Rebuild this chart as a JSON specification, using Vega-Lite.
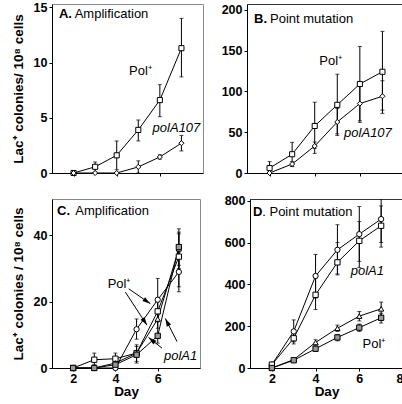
{
"$schema":"https://vega.github.io/schema/vega-lite/v6.json",
"padding":{"left":10,"top":0,"right":0,"bottom":0},
"config":{
 "font":"Liberation Sans",
 "view":{"stroke":"#333","strokeWidth":1},
 "axis":{"grid":false,"domainColor":"#000","tickColor":"#000","labelColor":"#000","titleColor":"#000","labelFontSize":12.5,"labelFontWeight":"bold","titleFontSize":13.5,"titleFontWeight":"bold","tickSize":3,"labelPadding":2,"titlePadding":8},
 "axisX":{"titlePadding":0,"labelPadding":1},
 "text":{"font":"Liberation Sans","fontSize":13,"color":"#000"}
},
"datasets":{"pts":[
 {"p":"A","s":"Pol+","day":2,"v":0},
 {"p":"A","s":"Pol+","day":3,"v":0.56,"lo":0.1,"hi":1.0},
 {"p":"A","s":"Pol+","day":4,"v":1.6,"lo":0.3,"hi":2.9},
 {"p":"A","s":"Pol+","day":5,"v":3.9,"lo":2.9,"hi":4.8},
 {"p":"A","s":"Pol+","day":6,"v":6.6,"lo":5.1,"hi":8.0},
 {"p":"A","s":"Pol+","day":7,"v":11.3,"lo":8.7,"hi":14.0},
 {"p":"A","s":"polA107","day":2,"v":0},
 {"p":"A","s":"polA107","day":3,"v":0},
 {"p":"A","s":"polA107","day":4,"v":0},
 {"p":"A","s":"polA107","day":5,"v":0.55,"lo":0,"hi":1.1},
 {"p":"A","s":"polA107","day":6,"v":1.45,"lo":1.25,"hi":1.65},
 {"p":"A","s":"polA107","day":7,"v":2.7,"lo":2.0,"hi":3.4},
 {"p":"B","s":"Pol+","day":2,"v":6,"lo":0,"hi":14},
 {"p":"B","s":"Pol+","day":3,"v":23,"lo":8,"hi":37.5},
 {"p":"B","s":"Pol+","day":4,"v":57.6,"lo":30,"hi":86.7},
 {"p":"B","s":"Pol+","day":5,"v":83.5,"lo":46,"hi":121},
 {"p":"B","s":"Pol+","day":6,"v":109,"lo":64,"hi":155},
 {"p":"B","s":"Pol+","day":7,"v":124,"lo":77,"hi":173.5},
 {"p":"B","s":"polA107","day":2,"v":0},
 {"p":"B","s":"polA107","day":3,"v":11,"lo":8,"hi":14},
 {"p":"B","s":"polA107","day":4,"v":33,"lo":24,"hi":38},
 {"p":"B","s":"polA107","day":5,"v":62.5,"lo":48,"hi":79},
 {"p":"B","s":"polA107","day":6,"v":85,"lo":62,"hi":109},
 {"p":"B","s":"polA107","day":7,"v":94,"lo":73,"hi":113},
 {"p":"C","s":"polA1 (1)","day":2,"v":0},
 {"p":"C","s":"polA1 (1)","day":3,"v":0},
 {"p":"C","s":"polA1 (1)","day":4,"v":0},
 {"p":"C","s":"polA1 (1)","day":5,"v":11.7,"lo":8.7,"hi":14.8},
 {"p":"C","s":"polA1 (1)","day":6,"v":20.6,"lo":14,"hi":27},
 {"p":"C","s":"polA1 (1)","day":7,"v":29,"lo":23,"hi":35},
 {"p":"C","s":"polA1 (2)","day":2,"v":0},
 {"p":"C","s":"polA1 (2)","day":3,"v":2.5,"lo":1,"hi":4.5},
 {"p":"C","s":"polA1 (2)","day":4,"v":2.8,"lo":1.2,"hi":4.5},
 {"p":"C","s":"polA1 (2)","day":5,"v":4.5,"lo":2,"hi":7},
 {"p":"C","s":"polA1 (2)","day":6,"v":17.1,"lo":14,"hi":20},
 {"p":"C","s":"polA1 (2)","day":7,"v":33.6,"lo":24.5,"hi":40.5},
 {"p":"C","s":"Pol+ (1)","day":2,"v":0},
 {"p":"C","s":"Pol+ (1)","day":3,"v":0},
 {"p":"C","s":"Pol+ (1)","day":4,"v":1.5},
 {"p":"C","s":"Pol+ (1)","day":5,"v":4.5},
 {"p":"C","s":"Pol+ (1)","day":6,"v":14.8,"lo":12,"hi":17.5},
 {"p":"C","s":"Pol+ (1)","day":7,"v":36,"lo":30,"hi":42},
 {"p":"C","s":"Pol+ (2)","day":2,"v":0},
 {"p":"C","s":"Pol+ (2)","day":3,"v":0},
 {"p":"C","s":"Pol+ (2)","day":4,"v":1},
 {"p":"C","s":"Pol+ (2)","day":5,"v":4,"lo":1.5,"hi":6.5},
 {"p":"C","s":"Pol+ (2)","day":6,"v":9.7,"lo":7.5,"hi":14},
 {"p":"C","s":"Pol+ (2)","day":7,"v":36.5,"lo":31,"hi":41},
 {"p":"D","s":"polA1 (1)","day":2,"v":16},
 {"p":"D","s":"polA1 (1)","day":3,"v":175,"lo":125,"hi":230},
 {"p":"D","s":"polA1 (1)","day":4,"v":440,"lo":335,"hi":543},
 {"p":"D","s":"polA1 (1)","day":5,"v":565,"lo":450,"hi":685},
 {"p":"D","s":"polA1 (1)","day":6,"v":640,"lo":510,"hi":772},
 {"p":"D","s":"polA1 (1)","day":7,"v":712,"lo":600,"hi":830},
 {"p":"D","s":"polA1 (2)","day":2,"v":16},
 {"p":"D","s":"polA1 (2)","day":3,"v":142,"lo":115,"hi":170},
 {"p":"D","s":"polA1 (2)","day":4,"v":350,"lo":280,"hi":430},
 {"p":"D","s":"polA1 (2)","day":5,"v":505,"lo":445,"hi":600},
 {"p":"D","s":"polA1 (2)","day":6,"v":608,"lo":480,"hi":700},
 {"p":"D","s":"polA1 (2)","day":7,"v":680,"lo":578,"hi":775},
 {"p":"D","s":"Pol+ (1)","day":2,"v":0},
 {"p":"D","s":"Pol+ (1)","day":3,"v":40},
 {"p":"D","s":"Pol+ (1)","day":4,"v":122,"lo":110,"hi":135},
 {"p":"D","s":"Pol+ (1)","day":5,"v":190,"lo":175,"hi":205},
 {"p":"D","s":"Pol+ (1)","day":6,"v":248,"lo":225,"hi":270},
 {"p":"D","s":"Pol+ (1)","day":7,"v":283,"lo":250,"hi":315},
 {"p":"D","s":"Pol+ (2)","day":2,"v":0},
 {"p":"D","s":"Pol+ (2)","day":3,"v":37},
 {"p":"D","s":"Pol+ (2)","day":4,"v":92,"lo":80,"hi":105},
 {"p":"D","s":"Pol+ (2)","day":5,"v":146,"lo":130,"hi":160},
 {"p":"D","s":"Pol+ (2)","day":6,"v":193,"lo":175,"hi":210},
 {"p":"D","s":"Pol+ (2)","day":7,"v":240,"lo":215,"hi":262}
]},
"vconcat":[
 {"spacing":16,"hconcat":[
  {"width":151,"height":169,"view":{"stroke":"#8a8a8a"},
   "data":{"name":"pts"},"transform":[{"filter":"datum.p === 'A'"}],
   "layer":[
    {"transform":[{"filter":"datum.lo != null"}],"mark":{"type":"rule","color":"#000","strokeWidth":1},
     "encoding":{"x":{"field":"day","type":"quantitative","scale":{"domain":[1,8],"nice":false,"zero":false},"axis":{"values":[2,3,4,5,6,7],"labels":false,"title":null}},
      "y":{"field":"lo","type":"quantitative","scale":{"domain":[0,15.3],"nice":false,"zero":false},"axis":{"values":[0,5,10,15],"title":"Lac⁺ colonies/ 10⁸ cells"}},"y2":{"field":"hi"}}},
    {"transform":[{"filter":"datum.lo != null"}],"mark":{"type":"tick","orient":"horizontal","size":4,"thickness":1,"color":"#000"},
     "encoding":{"x":{"field":"day","type":"quantitative","scale":{"domain":[1,8],"nice":false,"zero":false},"axis":{"values":[2,3,4,5,6,7],"labels":false,"title":null}},
      "y":{"field":"lo","type":"quantitative","scale":{"domain":[0,15.3],"nice":false,"zero":false},"axis":{"values":[0,5,10,15],"title":"Lac⁺ colonies/ 10⁸ cells"}}}},
    {"transform":[{"filter":"datum.lo != null"}],"mark":{"type":"tick","orient":"horizontal","size":4,"thickness":1,"color":"#000"},
     "encoding":{"x":{"field":"day","type":"quantitative","scale":{"domain":[1,8],"nice":false,"zero":false},"axis":{"values":[2,3,4,5,6,7],"labels":false,"title":null}},
      "y":{"field":"hi","type":"quantitative","scale":{"domain":[0,15.3],"nice":false,"zero":false},"axis":{"values":[0,5,10,15],"title":"Lac⁺ colonies/ 10⁸ cells"}}}},
    {"mark":{"type":"line","color":"#000","strokeWidth":1},
     "encoding":{"x":{"field":"day","type":"quantitative","scale":{"domain":[1,8],"nice":false,"zero":false},"axis":{"values":[2,3,4,5,6,7],"labels":false,"title":null}},
      "y":{"field":"v","type":"quantitative","scale":{"domain":[0,15.3],"nice":false,"zero":false},"axis":{"values":[0,5,10,15],"title":"Lac⁺ colonies/ 10⁸ cells"}},"detail":{"field":"s"}}},
    {"mark":{"type":"point","filled":true,"stroke":"#000","strokeWidth":1,"opacity":1,"size":26},
     "encoding":{"x":{"field":"day","type":"quantitative","scale":{"domain":[1,8],"nice":false,"zero":false},"axis":{"values":[2,3,4,5,6,7],"labels":false,"title":null}},
      "y":{"field":"v","type":"quantitative","scale":{"domain":[0,15.3],"nice":false,"zero":false},"axis":{"values":[0,5,10,15],"title":"Lac⁺ colonies/ 10⁸ cells"}},
      "shape":{"field":"s","type":"nominal","legend":null,"scale":{"domain":["Pol+","polA107","polA1 (1)","polA1 (2)","Pol+ (1)","Pol+ (2)"],"range":["square","diamond","circle","square","triangle-up","square"]}},
      "fill":{"field":"s","type":"nominal","legend":null,"scale":{"domain":["Pol+","polA107","polA1 (1)","polA1 (2)","Pol+ (1)","Pol+ (2)"],"range":["#fff","#fff","#fff","#fff","#fff","#9a9a9a"]}}}},
    {"data":{"values":[{}]},"mark":{"type":"text","text":"A.","fontWeight":"bold","align":"left","baseline":"middle"},
     "encoding":{"x":{"datum":1.32,"type":"quantitative"},"y":{"datum":14.4,"type":"quantitative"}}},
    {"data":{"values":[{}]},"mark":{"type":"text","text":"Amplification","align":"left","baseline":"middle"},
     "encoding":{"x":{"datum":2.05,"type":"quantitative"},"y":{"datum":14.4,"type":"quantitative"}}},
    {"data":{"values":[{}]},"mark":{"type":"text","text":"Pol⁺","align":"center","baseline":"middle"},
     "encoding":{"x":{"datum":5.1,"type":"quantitative"},"y":{"datum":9.2,"type":"quantitative"}}},
    {"data":{"values":[{}]},"mark":{"type":"text","text":"polA107","fontStyle":"italic","align":"center","baseline":"middle"},
     "encoding":{"x":{"datum":6.77,"type":"quantitative"},"y":{"datum":4.1,"type":"quantitative"}}}
   ]},
  {"width":158,"height":169,"view":{"stroke":"#333"},
   "data":{"name":"pts"},"transform":[{"filter":"datum.p === 'B'"}],
   "layer":[
    {"transform":[{"filter":"datum.lo != null"}],"mark":{"type":"rule","color":"#000","strokeWidth":1},
     "encoding":{"x":{"field":"day","type":"quantitative","scale":{"domain":[1,8],"nice":false,"zero":false},"axis":{"values":[2,3,4,5,6,7],"labels":false,"title":null}},
      "y":{"field":"lo","type":"quantitative","scale":{"domain":[0,207],"nice":false,"zero":false},"axis":{"values":[0,50,100,150,200],"title":null}},"y2":{"field":"hi"}}},
    {"transform":[{"filter":"datum.lo != null"}],"mark":{"type":"tick","orient":"horizontal","size":4,"thickness":1,"color":"#000"},
     "encoding":{"x":{"field":"day","type":"quantitative","scale":{"domain":[1,8],"nice":false,"zero":false},"axis":{"values":[2,3,4,5,6,7],"labels":false,"title":null}},
      "y":{"field":"lo","type":"quantitative","scale":{"domain":[0,207],"nice":false,"zero":false},"axis":{"values":[0,50,100,150,200],"title":null}}}},
    {"transform":[{"filter":"datum.lo != null"}],"mark":{"type":"tick","orient":"horizontal","size":4,"thickness":1,"color":"#000"},
     "encoding":{"x":{"field":"day","type":"quantitative","scale":{"domain":[1,8],"nice":false,"zero":false},"axis":{"values":[2,3,4,5,6,7],"labels":false,"title":null}},
      "y":{"field":"hi","type":"quantitative","scale":{"domain":[0,207],"nice":false,"zero":false},"axis":{"values":[0,50,100,150,200],"title":null}}}},
    {"mark":{"type":"line","color":"#000","strokeWidth":1},
     "encoding":{"x":{"field":"day","type":"quantitative","scale":{"domain":[1,8],"nice":false,"zero":false},"axis":{"values":[2,3,4,5,6,7],"labels":false,"title":null}},
      "y":{"field":"v","type":"quantitative","scale":{"domain":[0,207],"nice":false,"zero":false},"axis":{"values":[0,50,100,150,200],"title":null}},"detail":{"field":"s"}}},
    {"mark":{"type":"point","filled":true,"stroke":"#000","strokeWidth":1,"opacity":1,"size":26},
     "encoding":{"x":{"field":"day","type":"quantitative","scale":{"domain":[1,8],"nice":false,"zero":false},"axis":{"values":[2,3,4,5,6,7],"labels":false,"title":null}},
      "y":{"field":"v","type":"quantitative","scale":{"domain":[0,207],"nice":false,"zero":false},"axis":{"values":[0,50,100,150,200],"title":null}},
      "shape":{"field":"s","type":"nominal","legend":null,"scale":{"domain":["Pol+","polA107","polA1 (1)","polA1 (2)","Pol+ (1)","Pol+ (2)"],"range":["square","diamond","circle","square","triangle-up","square"]}},
      "fill":{"field":"s","type":"nominal","legend":null,"scale":{"domain":["Pol+","polA107","polA1 (1)","polA1 (2)","Pol+ (1)","Pol+ (2)"],"range":["#fff","#fff","#fff","#fff","#fff","#9a9a9a"]}}}},
    {"data":{"values":[{}]},"mark":{"type":"text","text":"B.","fontWeight":"bold","align":"left","baseline":"middle"},
     "encoding":{"x":{"datum":1.31,"type":"quantitative"},"y":{"datum":188.8,"type":"quantitative"}}},
    {"data":{"values":[{}]},"mark":{"type":"text","text":"Point mutation","align":"left","baseline":"middle"},
     "encoding":{"x":{"datum":2.02,"type":"quantitative"},"y":{"datum":188.8,"type":"quantitative"}}},
    {"data":{"values":[{}]},"mark":{"type":"text","text":"Pol⁺","align":"center","baseline":"middle"},
     "encoding":{"x":{"datum":4.71,"type":"quantitative"},"y":{"datum":136.8,"type":"quantitative"}}},
    {"data":{"values":[{}]},"mark":{"type":"text","text":"polA107","fontStyle":"italic","align":"center","baseline":"middle"},
     "encoding":{"x":{"datum":6.36,"type":"quantitative"},"y":{"datum":48.8,"type":"quantitative"}}}
   ]}
 ]},
 {"spacing":22,"hconcat":[
  {"width":148,"height":169,"view":{"stroke":"#8a8a8a"},
   "data":{"name":"pts"},"transform":[{"filter":"datum.p === 'C'"}],
   "layer":[
    {"transform":[{"filter":"datum.lo != null"}],"mark":{"type":"rule","color":"#000","strokeWidth":1},
     "encoding":{"x":{"field":"day","type":"quantitative","scale":{"domain":[1,8],"nice":false,"zero":false},"axis":{"values":[2,3,4,5,6,7],"title":"Day"}},
      "y":{"field":"lo","type":"quantitative","scale":{"domain":[0,51],"nice":false,"zero":false},"axis":{"values":[0,10,20,30,40,50],"title":"Lac⁺ colonies / 10⁸ cells"}},"y2":{"field":"hi"}}},
    {"transform":[{"filter":"datum.lo != null"}],"mark":{"type":"tick","orient":"horizontal","size":4,"thickness":1,"color":"#000"},
     "encoding":{"x":{"field":"day","type":"quantitative","scale":{"domain":[1,8],"nice":false,"zero":false},"axis":{"values":[2,3,4,5,6,7],"title":"Day"}},
      "y":{"field":"lo","type":"quantitative","scale":{"domain":[0,51],"nice":false,"zero":false},"axis":{"values":[0,10,20,30,40,50],"title":"Lac⁺ colonies / 10⁸ cells"}}}},
    {"transform":[{"filter":"datum.lo != null"}],"mark":{"type":"tick","orient":"horizontal","size":4,"thickness":1,"color":"#000"},
     "encoding":{"x":{"field":"day","type":"quantitative","scale":{"domain":[1,8],"nice":false,"zero":false},"axis":{"values":[2,3,4,5,6,7],"title":"Day"}},
      "y":{"field":"hi","type":"quantitative","scale":{"domain":[0,51],"nice":false,"zero":false},"axis":{"values":[0,10,20,30,40,50],"title":"Lac⁺ colonies / 10⁸ cells"}}}},
    {"mark":{"type":"line","color":"#000","strokeWidth":1},
     "encoding":{"x":{"field":"day","type":"quantitative","scale":{"domain":[1,8],"nice":false,"zero":false},"axis":{"values":[2,3,4,5,6,7],"title":"Day"}},
      "y":{"field":"v","type":"quantitative","scale":{"domain":[0,51],"nice":false,"zero":false},"axis":{"values":[0,10,20,30,40,50],"title":"Lac⁺ colonies / 10⁸ cells"}},"detail":{"field":"s"}}},
    {"mark":{"type":"point","filled":true,"stroke":"#000","strokeWidth":1,"opacity":1,"size":28},
     "encoding":{"x":{"field":"day","type":"quantitative","scale":{"domain":[1,8],"nice":false,"zero":false},"axis":{"values":[2,3,4,5,6,7],"title":"Day"}},
      "y":{"field":"v","type":"quantitative","scale":{"domain":[0,51],"nice":false,"zero":false},"axis":{"values":[0,10,20,30,40,50],"title":"Lac⁺ colonies / 10⁸ cells"}},
      "shape":{"field":"s","type":"nominal","legend":null,"scale":{"domain":["Pol+","polA107","polA1 (1)","polA1 (2)","Pol+ (1)","Pol+ (2)"],"range":["square","diamond","circle","square","triangle-up","square"]}},
      "fill":{"field":"s","type":"nominal","legend":null,"scale":{"domain":["Pol+","polA107","polA1 (1)","polA1 (2)","Pol+ (1)","Pol+ (2)"],"range":["#fff","#fff","#fff","#fff","#fff","#9a9a9a"]}}}},
    {"data":{"values":[{}]},"mark":{"type":"rule","color":"#000","strokeWidth":1},
     "encoding":{"x":{"datum":4.63,"type":"quantitative"},"y":{"datum":23.9,"type":"quantitative"},"x2":{"datum":5.65},"y2":{"datum":19.4}}},
    {"data":{"values":[{}]},"mark":{"type":"rule","color":"#000","strokeWidth":1},
     "encoding":{"x":{"datum":4.47,"type":"quantitative"},"y":{"datum":22.9,"type":"quantitative"},"x2":{"datum":5.49},"y2":{"datum":12.95}}},
    {"data":{"values":[{}]},"mark":{"type":"rule","color":"#000","strokeWidth":1},
     "encoding":{"x":{"datum":6.91,"type":"quantitative"},"y":{"datum":8.0,"type":"quantitative"},"x2":{"datum":6.36},"y2":{"datum":14.95}}},
    {"data":{"values":[{}]},"mark":{"type":"rule","color":"#000","strokeWidth":1},
     "encoding":{"x":{"datum":6.2,"type":"quantitative"},"y":{"datum":6.0,"type":"quantitative"},"x2":{"datum":5.57},"y2":{"datum":9.2}}},
    {"data":{"values":[{}]},"mark":{"type":"point","shape":"M0,0L-0.6,2L0.6,2Z","size":64,"filled":true,"color":"#000","opacity":1,"angle":124.8},
     "encoding":{"x":{"datum":5.65,"type":"quantitative"},"y":{"datum":19.4,"type":"quantitative"}}},
    {"data":{"values":[{}]},"mark":{"type":"point","shape":"M0,0L-0.6,2L0.6,2Z","size":64,"filled":true,"color":"#000","opacity":1,"angle":147},
     "encoding":{"x":{"datum":5.49,"type":"quantitative"},"y":{"datum":12.95,"type":"quantitative"}}},
    {"data":{"values":[{}]},"mark":{"type":"point","shape":"M0,0L-0.6,2L0.6,2Z","size":64,"filled":true,"color":"#000","opacity":1,"angle":333.3},
     "encoding":{"x":{"datum":6.36,"type":"quantitative"},"y":{"datum":14.95,"type":"quantitative"}}},
    {"data":{"values":[{}]},"mark":{"type":"point","shape":"M0,0L-0.6,2L0.6,2Z","size":64,"filled":true,"color":"#000","opacity":1,"angle":308.8},
     "encoding":{"x":{"datum":5.57,"type":"quantitative"},"y":{"datum":9.2,"type":"quantitative"}}},
    {"data":{"values":[{}]},"mark":{"type":"text","text":"C.","fontWeight":"bold","align":"left","baseline":"middle"},
     "encoding":{"x":{"datum":1.24,"type":"quantitative"},"y":{"datum":47.35,"type":"quantitative"}}},
    {"data":{"values":[{}]},"mark":{"type":"text","text":"Amplification","align":"left","baseline":"middle"},
     "encoding":{"x":{"datum":2.1,"type":"quantitative"},"y":{"datum":47.35,"type":"quantitative"}}},
    {"data":{"values":[{}]},"mark":{"type":"text","text":"Pol⁺","align":"center","baseline":"middle"},
     "encoding":{"x":{"datum":4.17,"type":"quantitative"},"y":{"datum":25.4,"type":"quantitative"}}},
    {"data":{"values":[{}]},"mark":{"type":"text","text":"polA1","fontStyle":"italic","align":"center","baseline":"middle"},
     "encoding":{"x":{"datum":7.08,"type":"quantitative"},"y":{"datum":3.6,"type":"quantitative"}}}
   ]},
  {"width":153,"height":169,"view":{"stroke":"#333"},
   "data":{"name":"pts"},"transform":[{"filter":"datum.p === 'D'"}],
   "layer":[
    {"transform":[{"filter":"datum.lo != null"}],"mark":{"type":"rule","color":"#000","strokeWidth":1,"clip":true},
     "encoding":{"x":{"field":"day","type":"quantitative","scale":{"domain":[1,8],"nice":false,"zero":false},"axis":{"values":[2,3,4,5,6,7,8],"title":"Day"}},
      "y":{"field":"lo","type":"quantitative","scale":{"domain":[0,808],"nice":false,"zero":false},"axis":{"values":[0,200,400,600,800],"title":null}},"y2":{"field":"hi"}}},
    {"transform":[{"filter":"datum.lo != null"}],"mark":{"type":"tick","orient":"horizontal","size":4,"thickness":1,"color":"#000","clip":true},
     "encoding":{"x":{"field":"day","type":"quantitative","scale":{"domain":[1,8],"nice":false,"zero":false},"axis":{"values":[2,3,4,5,6,7,8],"title":"Day"}},
      "y":{"field":"lo","type":"quantitative","scale":{"domain":[0,808],"nice":false,"zero":false},"axis":{"values":[0,200,400,600,800],"title":null}}}},
    {"transform":[{"filter":"datum.lo != null"}],"mark":{"type":"tick","orient":"horizontal","size":4,"thickness":1,"color":"#000","clip":true},
     "encoding":{"x":{"field":"day","type":"quantitative","scale":{"domain":[1,8],"nice":false,"zero":false},"axis":{"values":[2,3,4,5,6,7,8],"title":"Day"}},
      "y":{"field":"hi","type":"quantitative","scale":{"domain":[0,808],"nice":false,"zero":false},"axis":{"values":[0,200,400,600,800],"title":null}}}},
    {"mark":{"type":"line","color":"#000","strokeWidth":1},
     "encoding":{"x":{"field":"day","type":"quantitative","scale":{"domain":[1,8],"nice":false,"zero":false},"axis":{"values":[2,3,4,5,6,7,8],"title":"Day"}},
      "y":{"field":"v","type":"quantitative","scale":{"domain":[0,808],"nice":false,"zero":false},"axis":{"values":[0,200,400,600,800],"title":null}},"detail":{"field":"s"}}},
    {"mark":{"type":"point","filled":true,"stroke":"#000","strokeWidth":1,"opacity":1,"size":28},
     "encoding":{"x":{"field":"day","type":"quantitative","scale":{"domain":[1,8],"nice":false,"zero":false},"axis":{"values":[2,3,4,5,6,7,8],"title":"Day"}},
      "y":{"field":"v","type":"quantitative","scale":{"domain":[0,808],"nice":false,"zero":false},"axis":{"values":[0,200,400,600,800],"title":null}},
      "shape":{"field":"s","type":"nominal","legend":null,"scale":{"domain":["Pol+","polA107","polA1 (1)","polA1 (2)","Pol+ (1)","Pol+ (2)"],"range":["square","diamond","circle","square","triangle-up","square"]}},
      "fill":{"field":"s","type":"nominal","legend":null,"scale":{"domain":["Pol+","polA107","polA1 (1)","polA1 (2)","Pol+ (1)","Pol+ (2)"],"range":["#fff","#fff","#fff","#fff","#fff","#9a9a9a"]}}}},
    {"data":{"values":[{}]},"mark":{"type":"text","text":"D","fontWeight":"bold","align":"left","baseline":"middle"},
     "encoding":{"x":{"datum":1.14,"type":"quantitative"},"y":{"datum":745,"type":"quantitative"}}},
    {"data":{"values":[{}]},"mark":{"type":"text","text":". Point mutation","align":"left","baseline":"middle"},
     "encoding":{"x":{"datum":1.56,"type":"quantitative"},"y":{"datum":745,"type":"quantitative"}}},
    {"data":{"values":[{}]},"mark":{"type":"text","text":"polA1","fontStyle":"italic","align":"center","baseline":"middle"},
     "encoding":{"x":{"datum":6.37,"type":"quantitative"},"y":{"datum":462,"type":"quantitative"}}},
    {"data":{"values":[{}]},"mark":{"type":"text","text":"Pol⁺","align":"center","baseline":"middle"},
     "encoding":{"x":{"datum":6.67,"type":"quantitative"},"y":{"datum":117,"type":"quantitative"}}}
   ]}
 ]}
],
"spacing":14
}
